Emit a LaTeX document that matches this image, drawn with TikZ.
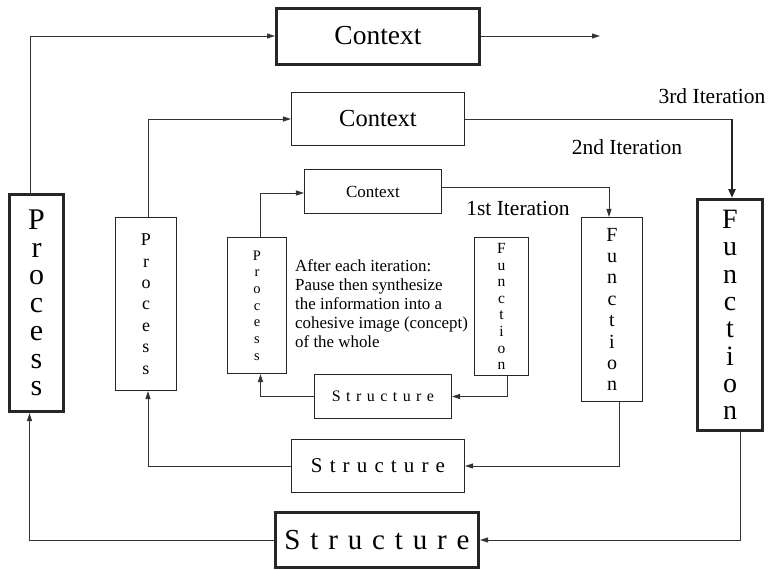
\documentclass[tikz,border=0pt]{standalone}
\usepackage{fontspec}
\setmainfont{Liberation Serif}
\usetikzlibrary{arrows.meta}
\newcommand{\gp}{\hspace{0.34em}}
\newcommand{\structtext}{S\gp t\gp r\gp u\gp c\gp t\gp u\gp r\gp e}
\begin{document}
\begin{tikzpicture}[x=1pt,y=-1pt,
  box/.style={draw=black!85, line width=1.2pt, inner sep=0pt, align=center},
  bigbox/.style={box, line width=3pt},
  conn/.style={draw=black!80, line width=0.9pt},
  arr/.style={conn, -{Triangle[length=8pt,width=5pt]}},
  bigarr/.style={draw=black!85, line width=2.6pt, -{Triangle[length=9pt,width=7pt]}},
  lbl/.style={inner sep=0pt, font=\fontsize{21.5}{23}\selectfont}
]
\useasboundingbox (0,0) rectangle (769,570);

% Context boxes
\node[bigbox, minimum width=203pt, minimum height=56pt, font=\fontsize{27.5}{30}\selectfont] (C3) at (378,36) {Context};
\node[box, minimum width=173pt, minimum height=53pt, font=\fontsize{24.5}{27}\selectfont] (C2) at (378,119) {Context};
\node[box, minimum width=137pt, minimum height=44pt, font=\fontsize{17}{19}\selectfont] (C1) at (373,191.5) {Context};

% Process boxes
\node[bigbox, minimum width=54pt, minimum height=217pt, font=\fontsize{30}{27.7}\selectfont] (P3) at (36.5,303) {P\\r\\o\\c\\e\\s\\s};
\node[box, minimum width=61pt, minimum height=173pt, font=\fontsize{18}{21.4}\selectfont] (P2) at (146,304) {P\\r\\o\\c\\e\\s\\s};
\node[box, minimum width=59pt, minimum height=136pt, font=\fontsize{14.5}{16.7}\selectfont] (P1) at (257,305.5) {P\\r\\o\\c\\e\\s\\s};

% Function boxes
\node[box, minimum width=54pt, minimum height=138pt, font=\fontsize{15.5}{16.6}\selectfont] (F1) at (501.5,306.5) {F\\u\\n\\c\\t\\i\\o\\n};
\node[box, minimum width=61pt, minimum height=184pt, font=\fontsize{20}{21.4}\selectfont] (F2) at (612,309.5) {F\\u\\n\\c\\t\\i\\o\\n};
\node[bigbox, minimum width=65pt, minimum height=231pt, font=\fontsize{28}{27.3}\selectfont] (F3) at (730,315) {F\\u\\n\\c\\t\\i\\o\\n};

% Structure boxes
\node[box, minimum width=137pt, minimum height=44pt, font=\fontsize{16}{18}\selectfont] (S1) at (383,396.5) {\structtext};
\node[box, minimum width=173pt, minimum height=53pt, font=\fontsize{21}{24}\selectfont] (S2) at (378,466) {\structtext};
\node[bigbox, minimum width=203pt, minimum height=55pt, font=\fontsize{29}{32}\selectfont] (S3) at (377,540) {\structtext};

% labels
\node[lbl] (L3) at (712,96) {3rd Iteration};
\node[lbl] (L2) at (627,147) {2nd Iteration};
\node[lbl] (L1) at (518,208) {1st Iteration};
\node[anchor=north west, align=left, inner sep=0pt, font=\fontsize{16.9}{19}\selectfont] (note) at (295,259)
  {After each iteration:\\Pause then synthesize\\the information into a\\cohesive image (concept)\\of the whole};

% free end
\coordinate (E3) at (600,36);

% outer loop
\draw[arr] ([xshift=-6.5pt]P3.north) |- (C3.west);
\draw[arr] (C3.east) -- (E3);
\draw[arr] ([xshift=10pt]F3.south) |- (S3.east);
\draw[arr] (S3.west) -| ([xshift=-7pt]P3.south);

% middle loop
\draw[arr] ([xshift=2pt]P2.north) |- (C2.west);
\coordinate (F3k) at ([xshift=2pt]F3.north);
\draw[conn] (C2.east) -- (C2.east -| F3k);
\draw[bigarr] (C2.east -| F3k) -- (F3k);
\draw[arr] ([xshift=7pt]F2.south) |- (S2.east);
\draw[arr] (S2.west) -| ([xshift=2pt]P2.south);

% inner loop
\draw[arr] ([xshift=3pt]P1.north) |- ([yshift=-1.5pt]C1.west);
\draw[arr] ([yshift=4.5pt]C1.east) -| ([xshift=-3pt]F2.north);
\draw[arr] ([xshift=5.5pt]F1.south) |- (S1.east);
\draw[arr] (S1.west) -| ([xshift=3.5pt]P1.south);
\end{tikzpicture}
\end{document}
